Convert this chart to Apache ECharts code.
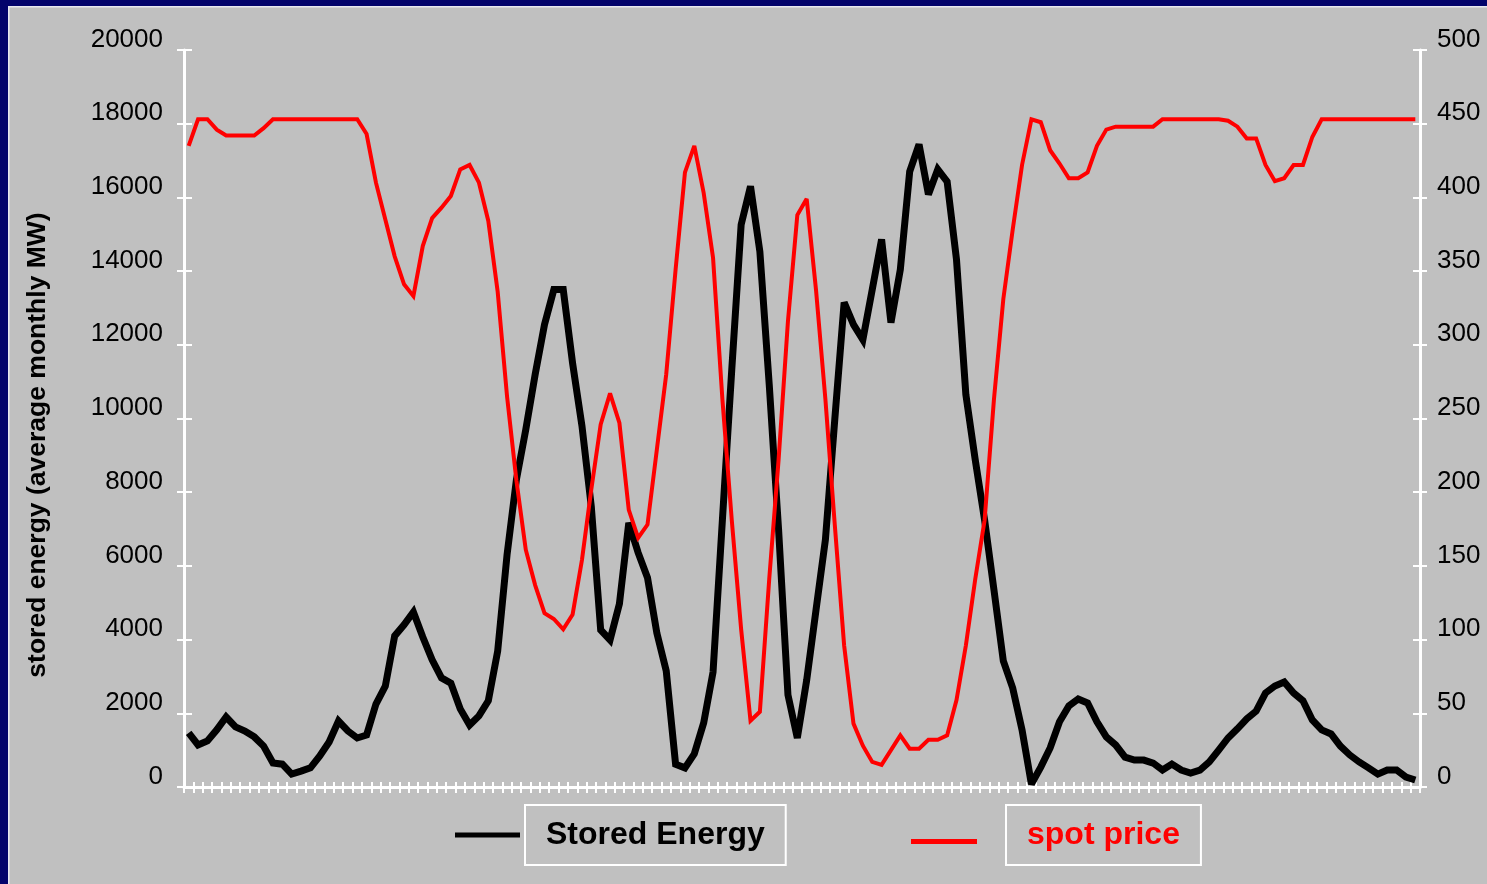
<!DOCTYPE html>
<html>
<head>
<meta charset="utf-8">
<script src="https://cdn.jsdelivr.net/npm/echarts@6/dist/echarts.min.js"></script>
<style>
  html, body { margin: 0; padding: 0; background: #c0c0c0; }
  #chart { width: 1487px; height: 884px; }
</style>
</head>
<body>
<div id="chart"></div>
<script>
// Monthly series, 132 months
const months = [];
for (let i = 1; i <= 132; i++) months.push(String(i));

// Stored energy (average monthly MW)
const storedEnergy = [
  1470, 1140, 1250, 1550, 1900, 1630, 1520, 1360, 1110, 650,
  620, 350, 430, 520, 840, 1220, 1790, 1520, 1330, 1410,
  2250, 2740, 4100, 4400, 4750, 4070, 3450, 2960, 2820, 2120,
  1680, 1930, 2340, 3690, 6300, 8340, 9700, 11190, 12550, 13500,
  13500, 11500, 9800, 7600, 4260, 3990, 4970, 7170, 6360, 5680,
  4180, 3150, 620, 520, 900, 1740, 3120, 7250, 11330, 15260,
  16300, 14530, 10920, 6980, 2500, 1330, 2900, 4810, 6710, 9970,
  13150, 12550, 12140, 13500, 14860, 12600, 14040, 16700, 17440, 16080,
  16760, 16430, 14310, 10650, 8880, 7250, 5350, 3420, 2690, 1550,
  80, 540, 1060, 1770, 2200, 2390, 2280, 1770, 1360, 1140,
  810, 730, 730, 650, 460, 620, 460, 380, 460, 680,
  1000, 1330, 1580, 1850, 2060, 2550, 2740, 2850, 2550, 2340,
  1820, 1550, 1440, 1110, 870, 680, 520, 350, 460, 460,
  270, 190
];

// Spot price (right axis)
const spotPrice = [
  435, 453, 453, 446, 442, 442, 442, 442, 447, 453,
  453, 453, 453, 453, 453, 453, 453, 453, 453, 443,
  410, 385, 360, 341, 333, 367, 386, 393, 401, 419,
  422, 410, 384, 336, 265, 208, 161, 137, 118, 114,
  107, 117, 154, 202, 246, 267, 247, 188, 169, 178,
  229, 280, 351, 417, 435, 403, 359, 263, 181, 107,
  45, 51, 141, 222, 316, 388, 399, 337, 263, 178,
  96, 43, 28, 17, 15, 25, 35, 26, 26, 32,
  32, 35, 59, 96, 141, 181, 263, 331, 378, 422,
  453, 451, 432, 423, 413, 413, 417, 435, 446, 448,
  448, 448, 448, 448, 453, 453, 453, 453, 453, 453,
  453, 452, 448, 440, 440, 422, 411, 413, 422, 422,
  441, 453, 453, 453, 453, 453, 453, 453, 453, 453,
  453, 453
];

const FONT = '"Liberation Sans", Arial, sans-serif';
const WHITE = '#ffffff';
const NAVY = '#03036b';

const gridBox = { left: 184, right: 67, top: 50, bottom: 97 };

// plain integer tick labels, no thousands separator
const plainLabel = function (v) { return String(v); };

const valueLabel = function (margin) {
  return {
    margin: margin, fontSize: 26, color: '#000', fontFamily: FONT,
    verticalAlign: 'bottom', lineHeight: 21, formatter: plainLabel
  };
};

const legendText = function (color) {
  const boxed = {
    fontSize: 32, fontWeight: 'bold', color: color, fontFamily: FONT, lineHeight: 32,
    borderColor: WHITE, borderWidth: 2, padding: [14, 21, 14, 21]
  };
  return {
    fontSize: 32, fontWeight: 'bold', color: color, fontFamily: FONT,
    rich: { g: { width: 24 }, b: boxed }
  };
};

const chart = echarts.init(document.getElementById('chart'), null, { renderer: 'canvas' });

chart.setOption({
  animation: false,
  backgroundColor: '#c0c0c0',
  grid: [
    Object.assign({ containLabel: false }, gridBox),
    Object.assign({ containLabel: false }, gridBox)
  ],
  xAxis: [
    {
      type: 'category', gridIndex: 0, data: months, boundaryGap: true, position: 'bottom',
      axisLine: { show: true, lineStyle: { color: WHITE, width: 3 } },
      axisTick: { show: true, interval: 0, length: 6, lineStyle: { color: WHITE, width: 2 } },
      axisLabel: { show: false },
      splitLine: { show: false }
    },
    {
      type: 'category', gridIndex: 1, data: months, boundaryGap: true, position: 'bottom',
      axisLine: { show: false },
      axisTick: { show: true, inside: true, interval: 0, length: 5, lineStyle: { color: WHITE, width: 2 } },
      axisLabel: { show: false },
      splitLine: { show: false }
    }
  ],
  yAxis: [
    {
      type: 'value', gridIndex: 0, position: 'left', min: 0, max: 20000, interval: 2000,
      axisLine: { show: true, lineStyle: { color: WHITE, width: 3 } },
      axisTick: { show: true, length: 7, lineStyle: { color: WHITE, width: 2 } },
      axisLabel: valueLabel(21),
      splitLine: { show: false }
    },
    {
      type: 'value', gridIndex: 0, position: 'right', min: 0, max: 500, interval: 50,
      axisLine: { show: true, lineStyle: { color: WHITE, width: 3 } },
      axisTick: { show: true, length: 7, lineStyle: { color: WHITE, width: 2 } },
      axisLabel: valueLabel(17),
      splitLine: { show: false }
    },
    {
      type: 'value', gridIndex: 1, position: 'left', min: 0, max: 20000, interval: 2000,
      axisLine: { show: false },
      axisTick: { show: true, inside: true, length: 8, lineStyle: { color: WHITE, width: 2 } },
      axisLabel: { show: false },
      splitLine: { show: false }
    },
    {
      type: 'value', gridIndex: 1, position: 'right', min: 0, max: 500, interval: 50,
      axisLine: { show: false },
      axisTick: { show: true, inside: true, length: 7, lineStyle: { color: WHITE, width: 2 } },
      axisLabel: { show: false },
      splitLine: { show: false }
    }
  ],
  legend: [
    {
      data: ['Stored Energy'], left: 455, top: 804, padding: 0, icon: 'rect',
      itemWidth: 65, itemHeight: 5, selectedMode: false,
      formatter: function (name) { return '{b|' + name + '}'; },
      textStyle: legendText('#000000')
    },
    {
      data: ['spot price'], left: 911, top: 804, padding: 0,
      // line sample sits a little below the middle of the boxed label
      icon: 'path://M0,0L66,0L66,0Z M0,13L66,13L66,18L0,18Z',
      itemWidth: 66, itemHeight: 19, selectedMode: false,
      formatter: function (name) { return '{g|}{b|' + name + '}'; },
      textStyle: legendText('#ff0000')
    }
  ],
  graphic: [
    // slide frame along the top and left edges
    { type: 'rect', shape: { x: 0, y: 0, width: 1487, height: 6 }, style: { fill: NAVY }, silent: true, z: 100 },
    { type: 'rect', shape: { x: 0, y: 0, width: 8, height: 884 }, style: { fill: NAVY }, silent: true, z: 100 },
    { type: 'rect', shape: { x: 8, y: 6, width: 1479, height: 1.5 }, style: { fill: '#e8e8f0' }, silent: true, z: 100 },
    { type: 'rect', shape: { x: 8, y: 6, width: 1.5, height: 878 }, style: { fill: '#e8e8f0' }, silent: true, z: 100 },
    // left axis title
    {
      type: 'text', x: 38, y: 445, rotation: Math.PI / 2, silent: true,
      style: {
        text: 'stored energy (average monthly MW)', fill: '#000',
        font: 'bold 26.5px ' + FONT, textAlign: 'center', textVerticalAlign: 'middle'
      }
    }
  ],
  series: [
    {
      name: 'Stored Energy', type: 'line', xAxisIndex: 0, yAxisIndex: 0, data: storedEnergy,
      symbol: 'none', color: '#000000',
      lineStyle: { color: '#000000', width: 7, join: 'miter', miterLimit: 3 },
      emphasis: { disabled: true }
    },
    {
      name: 'spot price', type: 'line', xAxisIndex: 0, yAxisIndex: 1, data: spotPrice,
      symbol: 'none', color: '#ff0000',
      lineStyle: { color: '#ff0000', width: 4, join: 'miter', miterLimit: 3 },
      emphasis: { disabled: true }
    }
  ]
});
</script>
</body>
</html>
